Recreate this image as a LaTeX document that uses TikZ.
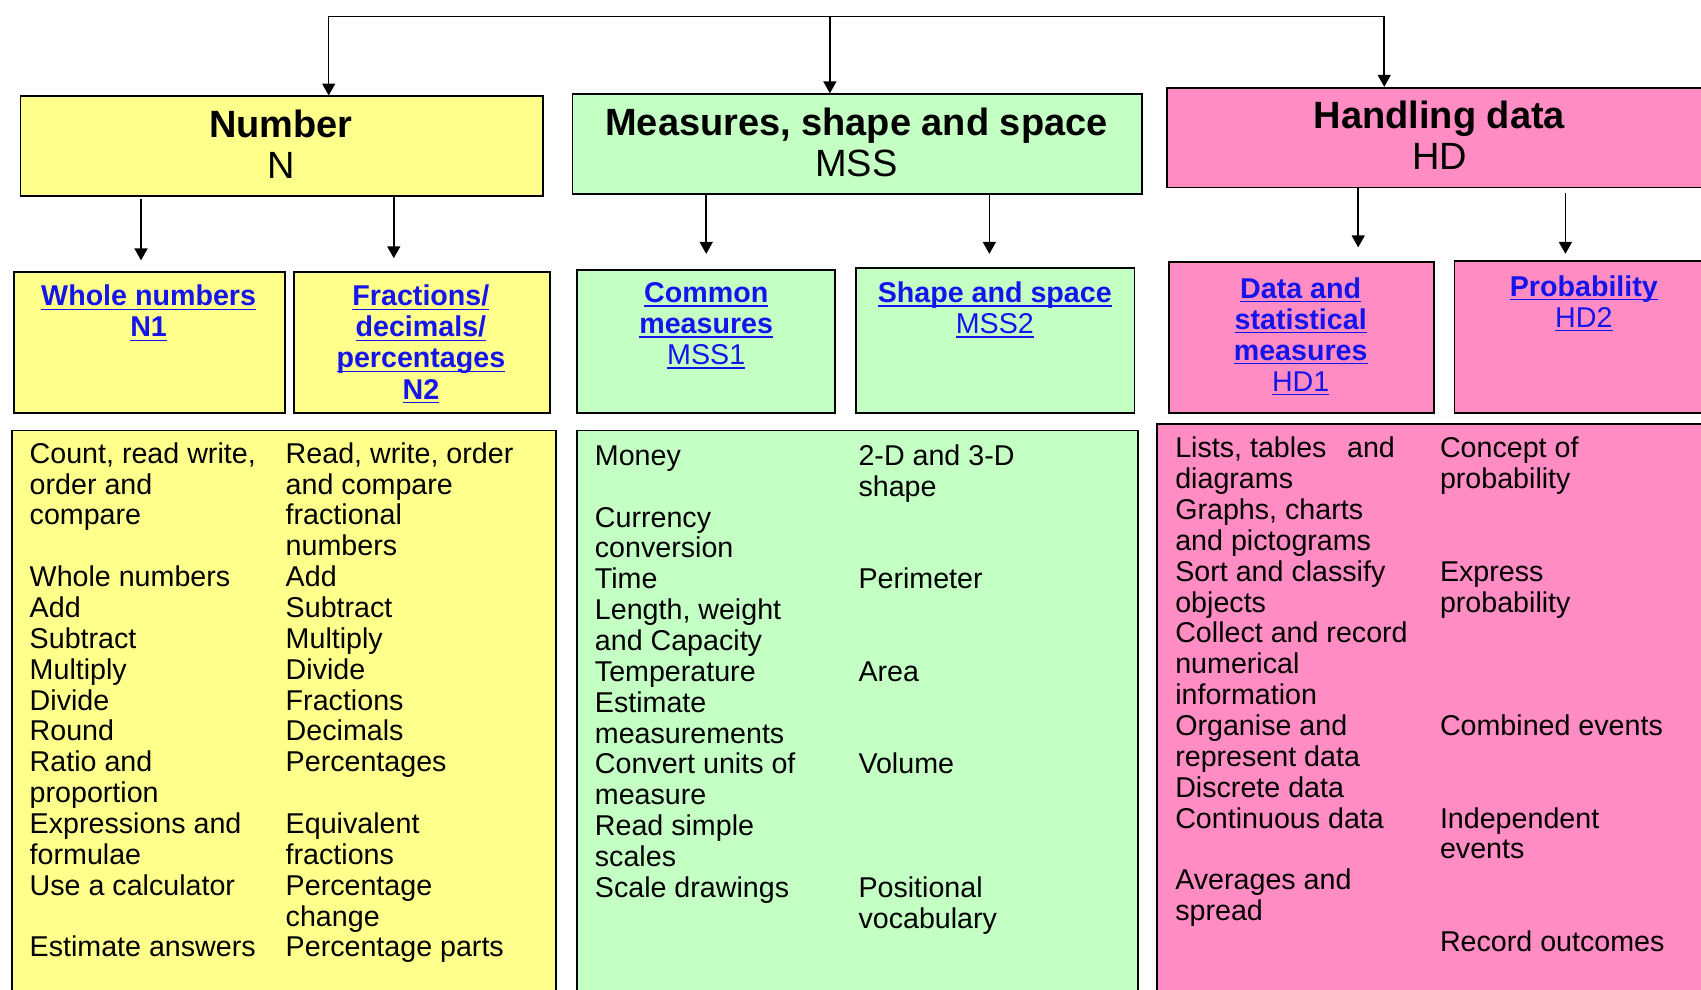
\documentclass[tikz,border=0pt]{standalone}
\usepackage{fontspec}
\setmainfont{Liberation Sans}
\usetikzlibrary{arrows.meta}
\definecolor{nyel}{RGB}{255,255,140}
\definecolor{mgreen}{RGB}{196,255,196}
\definecolor{hpink}{RGB}{255,140,194}
\definecolor{lblue}{RGB}{20,20,235}
\newcommand\mylink[1]{\leavevmode\setbox0=\hbox{#1}\rlap{\rule[-1.8pt]{\wd0}{0.6pt}}\box0}
\tikzset{
  box/.style={draw=black, line width=0.8pt, rectangle, inner sep=0pt, anchor=north west},
  conn/.style={line width=0.7pt},
  arr/.style={conn, -{Triangle[width=6pt,length=5.5pt]}},
  body/.style={anchor=base west, inner sep=0pt, font=\fontsize{13.2}{14.22}\selectfont},
  titletext/.style={anchor=base, inner sep=0pt, font=\fontsize{17.5}{19}\selectfont},
  linktext/.style={anchor=base, inner sep=0pt, text=lblue, font=\fontsize{13.2}{14.3}\selectfont}
}
\begin{document}
\begin{tikzpicture}[x=0.5pt,y=-0.5pt]
\clip (0,0) rectangle (1568,912);
\fill[white] (0,0) rectangle (1568,912);

% main boxes
\node[box, fill=nyel, minimum width=241pt, minimum height=46pt] (number) at (18,88) {};
\node[box, fill=mgreen, minimum width=262.5pt, minimum height=46pt] (mss) at (527,86) {};
\node[box, fill=hpink, minimum width=252pt, minimum height=46pt] (hd) at (1075,80) {};

\node[titletext] (numbert) at (259,126.5) {\parbox[t]{230pt}{\centering\textbf{Number}\\N}};
\node[titletext] (msst) at (789.5,124.5) {\parbox[t]{250pt}{\centering\textbf{Measures, shape and space}\\MSS}};
\node[titletext] (hdt) at (1327,118.5) {\parbox[t]{240pt}{\centering\textbf{Handling data}\\HD}};

% sub boxes
\node[box, fill=nyel, minimum width=125pt, minimum height=65pt] (n1) at (12,250) {};
\node[box, fill=nyel, minimum width=118pt, minimum height=65pt] (n2) at (270,250) {};
\node[box, fill=mgreen, minimum width=119pt, minimum height=66pt] (mss1) at (531,248) {};
\node[box, fill=mgreen, minimum width=128.5pt, minimum height=67pt] (mss2) at (788,246) {};
\node[box, fill=hpink, minimum width=122pt, minimum height=69.5pt] (hd1) at (1077,241) {};
\node[box, fill=hpink, minimum width=120pt, minimum height=70pt] (hd2) at (1340,240) {};

\node[linktext] (n1t) at (137,282) {\parbox[t]{120pt}{\centering\mylink{\textbf{Whole numbers}}\\\mylink{\textbf{N1}}}};
\node[linktext] (n2t) at (388,282) {\parbox[t]{115pt}{\centering\mylink{\textbf{Fractions/}}\\\mylink{\textbf{decimals/}}\\\mylink{\textbf{percentages}}\\\mylink{\textbf{N2}}}};
\node[linktext] (mss1t) at (651,279) {\parbox[t]{115pt}{\centering\mylink{\textbf{Common}}\\\mylink{\textbf{measures}}\\\mylink{MSS1}}};
\node[linktext] (mss2t) at (917,279) {\parbox[t]{125pt}{\centering\mylink{\textbf{Shape and space}}\\\mylink{MSS2}}};
\node[linktext] (hd1t) at (1199,275) {\parbox[t]{120pt}{\centering\mylink{\textbf{Data and}}\\\mylink{\textbf{statistical}}\\\mylink{\textbf{measures}}\\\mylink{HD1}}};
\node[linktext] (hd2t) at (1460,273) {\parbox[t]{115pt}{\centering\mylink{\textbf{Probability}}\\\mylink{HD2}}};

% content boxes
\node[box, fill=nyel, minimum width=251pt, minimum height=270pt] (nc) at (10,396) {};
\node[box, fill=mgreen, minimum width=258.5pt, minimum height=270pt] (mssc) at (531,396) {};
\node[box, fill=hpink, minimum width=265pt, minimum height=275pt] (hdc) at (1066,390) {};

\node[body] (nc1) at (27,427) {\parbox[t]{118pt}{\raggedright
Count, read write,\\order and\\compare\\\mbox{}\\Whole numbers\\Add\\Subtract\\Multiply\\Divide\\Round\\Ratio and\\proportion\\Expressions and\\formulae\\Use a calculator\\\mbox{}\\Estimate answers}};
\node[body] (nc2) at (263,427) {\parbox[t]{118pt}{\raggedright
Read, write, order\\and compare\\fractional\\numbers\\Add\\Subtract\\Multiply\\Divide\\Fractions\\Decimals\\Percentages\\\mbox{}\\Equivalent\\fractions\\Percentage\\change\\Percentage parts}};

\node[body] (mssc1) at (548,429) {\parbox[t]{120pt}{\raggedright
Money\\\mbox{}\\Currency\\conversion\\Time\\Length, weight\\and Capacity\\Temperature\\Estimate\\measurements\\Convert units of\\measure\\Read simple\\scales\\Scale drawings}};
\node[body] (mssc2) at (791,429) {\parbox[t]{120pt}{\raggedright
2-D and 3-D\\shape\\\mbox{}\\\mbox{}\\Perimeter\\\mbox{}\\\mbox{}\\Area\\\mbox{}\\\mbox{}\\Volume\\\mbox{}\\\mbox{}\\\mbox{}\\Positional\\vocabulary}};

\node[body] (hdc1) at (1083,422) {\parbox[t]{121pt}{\raggedright
Lists, tables\hspace{9.5pt}and\\diagrams\\Graphs, charts\\and pictograms\\Sort and classify\\objects\\Collect and record\\numerical\\information\\Organise and\\represent data\\Discrete data\\Continuous data\\\mbox{}\\Averages and\\spread}};
\node[body] (hdc2) at (1327,422) {\parbox[t]{121pt}{\raggedright
Concept of\\probability\\\mbox{}\\\mbox{}\\Express\\probability\\\mbox{}\\\mbox{}\\\mbox{}\\Combined events\\\mbox{}\\\mbox{}\\Independent\\events\\\mbox{}\\\mbox{}\\Record outcomes}};

% connectors
\coordinate (rootL) at (303,15);
\coordinate (rootM) at (765,15);
\coordinate (rootR) at (1276,15);
\draw[conn] (rootL) -- (rootR);
\draw[arr] (rootL) -- (number.north -| rootL);
\draw[arr] (rootM) -- (mss.north -| rootM);
\draw[arr] (rootR) -- (hd.north -| rootR);

\coordinate (e1) at (130,240);
\coordinate (e2) at (363,238);
\coordinate (e3) at (651,234);
\coordinate (e4) at (912,234);
\coordinate (e5) at (1252,228);
\coordinate (e6) at (1443,234);
\draw[arr] ([yshift=-1pt]number.south -| e1) -- (e1);
\draw[arr] (number.south -| e2) -- (e2);
\draw[arr] (mss.south -| e3) -- (e3);
\draw[arr] (mss.south -| e4) -- (e4);
\draw[arr] (hd.south -| e5) -- (e5);
\draw[arr] ([yshift=-2pt]hd.south -| e6) -- (e6);
\end{tikzpicture}
\end{document}
